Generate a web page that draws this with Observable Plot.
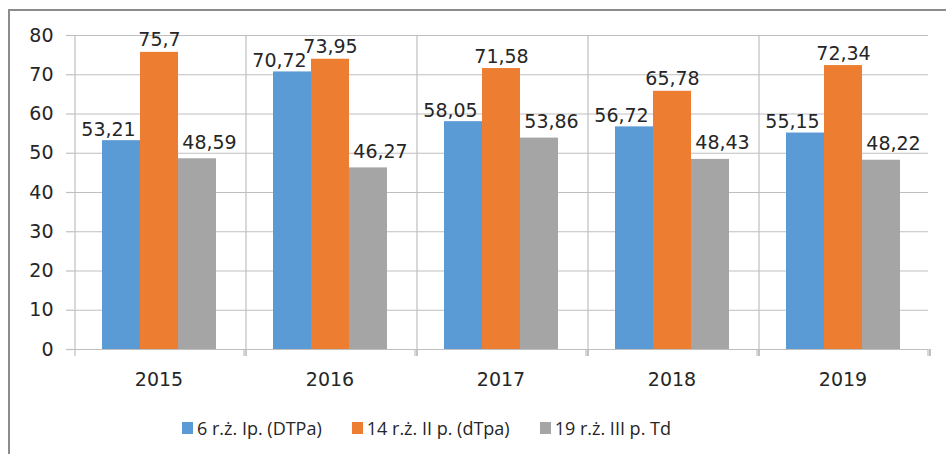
<!DOCTYPE html>
<html>
<head>
<meta charset="utf-8">
<script src="https://cdn.jsdelivr.net/npm/d3@7"></script>
<script src="https://cdn.jsdelivr.net/npm/@observablehq/plot@0.6"></script>
<style>
  html, body { margin: 0; padding: 0; background: #fff; }
  #wrap { position: relative; width: 946px; height: 454px; overflow: hidden; }
  #chart { position: absolute; left: 0; top: 0; }
  #frame { position: absolute; left: 8px; top: 9px; width: 1000px; height: 500px;
           border-top: 2px solid #8c8c8c; border-left: 2px solid #8c8c8c; pointer-events: none; }
  #legend { position: absolute; left: 182px; top: 416px; display: flex; gap: 30px;
            font-family: "Open Sans", sans-serif; font-size: 18px; color: #262626; }
  #legend .item { display: flex; align-items: center; gap: 4px; white-space: nowrap; }
  #legend .sw { width: 11px; height: 12px; display: inline-block; }
</style>
</head>
<body>
<div id="wrap">
  <div id="chart"></div>
  <div id="legend"></div>
  <div id="frame"></div>
</div>
<script>
const years = ["2015", "2016", "2017", "2018", "2019"];
const seriesNames = ["6 r.ż. Ip. (DTPa)", "14 r.ż. II p. (dTpa)", "19 r.ż. III p. Td"];
const seriesColors = ["#5b9bd5", "#ed7d31", "#a5a5a5"];
const s1 = [53.21, 70.72, 58.05, 56.72, 55.15];
const s2 = [75.7, 73.95, 71.58, 65.78, 72.34];
const s3 = [48.59, 46.27, 53.86, 48.43, 48.22];
const yTicks = [0, 10, 20, 30, 40, 50, 60, 70, 80];

const labelDx = [-13, 0, 12];
const labelDy = [-5, -6, -10];

const seriesValues = [s1, s2, s3];
const data = [];
years.forEach((yr, i) => {
  seriesNames.forEach((s, j) => {
    data.push({year: yr, series: s, value: seriesValues[j][i], si: j});
  });
});
const fmt = v => String(v).replace(".", ",");

const gridColor = "#bfbfbf";
const textColor = "#262626";

const boundaries = (index, scales, values, dims) => {
  const g = d3.create("svg:g").attr("stroke", gridColor).attr("stroke-width", 1.2);
  const y0 = scales.y(0);
  const xs = years.map(y => scales.fx(y)).concat([dims.width - dims.marginRight]);
  xs.forEach((x, i) => {
    g.append("line")
      .attr("x1", x).attr("x2", x)
      .attr("y1", i === 0 ? scales.y(80) : y0)
      .attr("y2", y0 + 7);
  });
  return g.node();
};

const labelMarks = seriesNames.map((s, j) =>
  Plot.text(data.filter(d => d.si === j), {
    fx: "year", x: "series", y: "value", text: d => fmt(d.value),
    lineAnchor: "bottom", dx: labelDx[j], dy: labelDy[j],
    fill: textColor, fontSize: 19
  })
);

const chart = Plot.plot({
  width: 946,
  height: 400,
  marginLeft: 71,
  marginRight: 17,
  marginTop: 35,
  marginBottom: 51,
  style: {fontFamily: "DejaVu Sans, sans-serif", fontSize: "19px", color: textColor, background: "transparent", overflow: "visible"},
  fx: {domain: years, padding: 0, label: null},
  x: {domain: seriesNames, paddingInner: 0, paddingOuter: 0.73, axis: null},
  y: {domain: [0, 80], label: null},
  color: {domain: seriesNames, range: seriesColors},
  marks: [
    Plot.gridY(yTicks, {stroke: gridColor, strokeOpacity: 1, strokeWidth: 1.2}),
    Plot.axisY(yTicks, {tickSize: 7, tickPadding: 13, stroke: gridColor, strokeWidth: 1.2, fill: textColor, fontSize: 19, label: null}),
    Plot.axisFx({anchor: "bottom", tickSize: 0, tickPadding: 23, fontSize: 19, fill: textColor, label: null}),
    Plot.barY(data, {fx: "year", x: "series", y: "value", fill: "series"}),
    ...labelMarks,
    boundaries
  ]
});
document.getElementById("chart").appendChild(chart);

const legend = d3.select("#legend");
seriesNames.forEach((s, j) => {
  const it = legend.append("div").attr("class", "item");
  it.append("span").attr("class", "sw").style("background", seriesColors[j]);
  it.append("span").text(s);
});
</script>
</body>
</html>
